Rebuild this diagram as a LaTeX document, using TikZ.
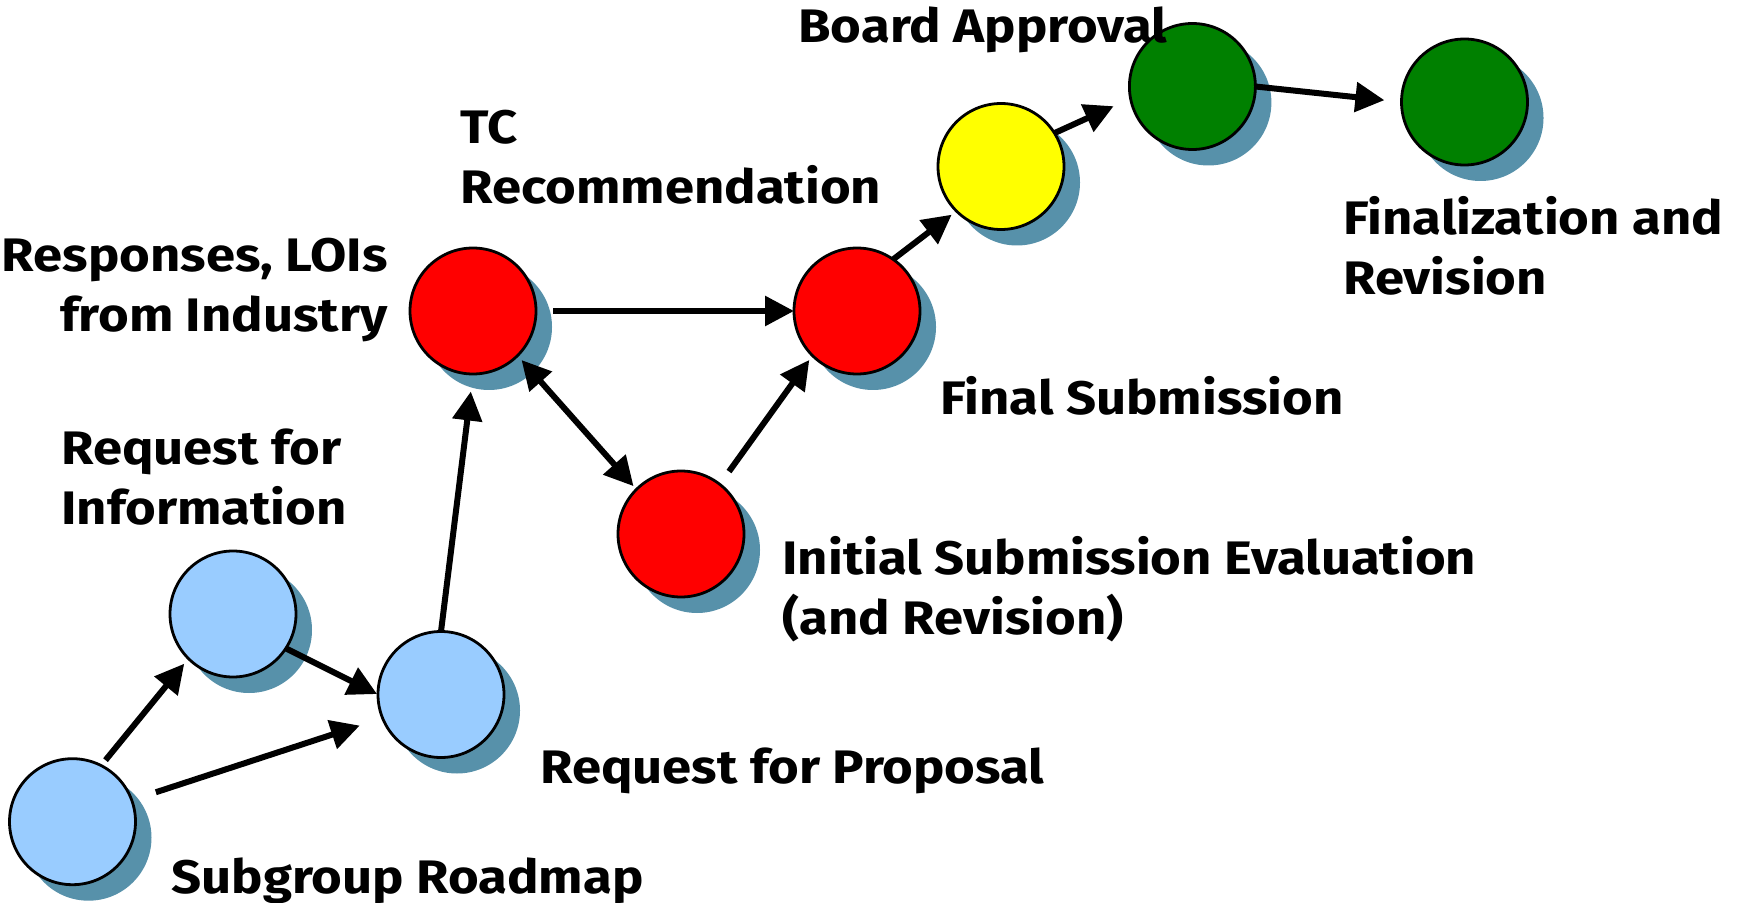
\documentclass[tikz,border=0pt]{standalone}
\usepackage{fontspec}
\setmainfont{Fira Sans}[FakeStretch=1.12]
\usetikzlibrary{positioning, arrows.meta, shadows}
\definecolor{skyfill}{HTML}{99CCFF}
\definecolor{shade}{HTML}{5791AA}
\definecolor{leafgreen}{HTML}{008000}
\definecolor{signal}{HTML}{FFFF00}
\tikzset{link/.style={line width=3pt, -{Triangle[length=14.5pt,width=14.5pt]}}}
\tikzset{twoway/.style={line width=3pt, {Triangle[length=14.5pt,width=14.5pt]}-{Triangle[length=14.5pt,width=14.5pt]}}}
\tikzset{tlabel/.style={font=\fontsize{23.5}{30}\selectfont\bfseries, inner sep=0pt}}

\begin{document}
\begin{tikzpicture}[
                x=0.5pt, y=-0.5pt,
                stage/.style={draw, circle, line width=1.4pt, minimum size=63pt, inner sep=0pt, outer sep=0pt,
                    drop shadow={shadow xshift=8pt, shadow yshift=-8pt, fill=shade, opacity=1}}
            ]
                \useasboundingbox (0,0) rectangle (1739,903);

                % stages
                \node[stage, fill=skyfill](roadmap) at (72.5,821.7) {};
                \node[stage, fill=skyfill](rfi) at (233,614) {};
                \node[stage, fill=skyfill](rfp) at (441,694.5) {};
                \node[stage, fill=red](loi) at (473,311) {};
                \node[stage, fill=red](initial) at (681,534) {};
                \node[stage, fill=red](final) at (857,311) {};
                \node[stage, fill=signal](tc) at (1001,166.5) {};
                \node[stage, fill=leafgreen](board) at (1192.4,86.5) {};
                \node[stage, fill=leafgreen](finalize) at (1464.5,102) {};

                % labels (base = last line)
                \node[tlabel, anchor=base west](lroadmap) at (171,893) {Subgroup Roadmap};
                \node[tlabel, anchor=base west, align=left](lrfi) at (61,524) {Request for\\Information};
                \node[tlabel, anchor=base west](lrfp) at (540,783) {Request for Proposal};
                \node[tlabel, anchor=base east, align=right](lloi) at (388,332) {Responses, LOIs\\from Industry};
                \node[tlabel, anchor=base west, align=left](linitial) at (782,634) {Initial Submission Evaluation\\(and Revision)};
                \node[tlabel, anchor=base west](lfinal) at (940,415) {Final Submission};
                \node[tlabel, anchor=base west, align=left](ltc) at (460,204) {TC\\Recommendation};
                \node[tlabel, anchor=base west](lboard) at (798,43) {Board Approval};
                \node[tlabel, anchor=base west, align=left](lfinalize) at (1343,295) {Finalization and\\Revision};

                % connectors
                \draw[link, shorten <=3.5pt, shorten >=3.3pt] (roadmap.63) -- (rfi.225);
                \draw[link, shorten <=12.7pt, shorten >=12pt] (roadmap.20) -- (rfp.202);
                \draw[link, shorten >=0.5pt] (rfi.-33) -- (rfp.180);
                \draw[link, shorten >=8.8pt] (rfp.90) -- (loi.270);
                \draw[twoway, shorten <=3pt, shorten >=2.2pt] (loi.-45) -- (initial.135);
                \draw[link, shorten <=8.6pt] (loi.0) -- (final.180);
                \draw[link, shorten <=7.9pt, shorten >=2.7pt] (initial.52) -- (final.225);
                \draw[link, shorten >=3pt] (final.55) -- (tc.225);
                \draw[link, shorten >=9.3pt] (tc.32) -- (board.191);
                \draw[link, shorten >=8.6pt] (board.0) -- (finalize.180);
            \end{tikzpicture}
\end{document}
